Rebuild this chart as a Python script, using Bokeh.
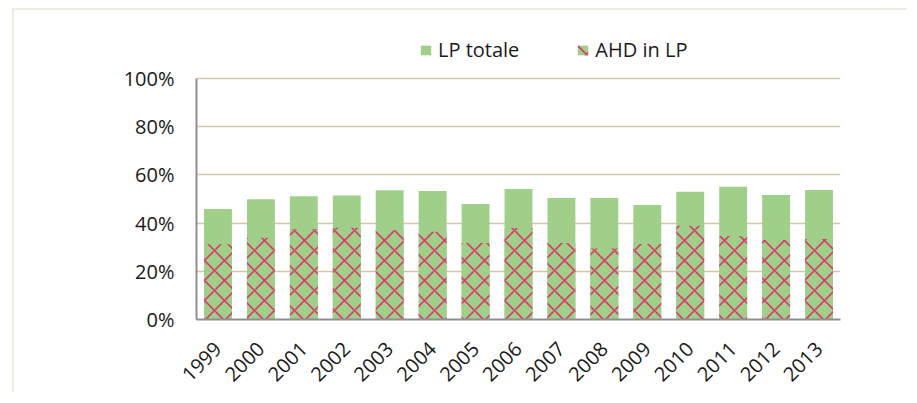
from bokeh.plotting import figure
from bokeh.models import (ColumnDataSource, FixedTicker, NumeralTickFormatter,
                          Range1d, Legend, LegendItem)
from bokeh.embed import file_html
from bokeh.resources import INLINE
from math import pi

years = ["1999", "2000", "2001", "2002", "2003", "2004", "2005", "2006",
         "2007", "2008", "2009", "2010", "2011", "2012", "2013"]
lp_totale = [45.9, 49.9, 51.1, 51.5, 53.6, 53.3, 47.9, 54.1,
             50.4, 50.4, 47.5, 53.0, 55.1, 51.7, 53.7]
ahd_in_lp = [31.2, 33.9, 37.4, 38.1, 37.1, 36.4, 31.7, 38.0,
             31.7, 29.5, 31.3, 38.9, 34.6, 33.0, 33.4]
y_ticks = [0, 20, 40, 60, 80, 100]

src = ColumnDataSource(dict(
    year=years,
    total=[v / 100 for v in lp_totale],
    ahd=[v / 100 for v in ahd_in_lp],
))

GREEN = "#a0cf8a"
RED = "#d4436f"
FONT = "Open Sans"

# frame extends above 100% to host the legend; axis line bounded to 0..100%
p = figure(x_range=years, y_range=Range1d(0, 1.2033), width=895, height=384,
           output_backend="svg", toolbar_location=None,
           min_border_left=182, min_border_right=69,
           min_border_top=19, min_border_bottom=75)
p.styles = {"margin-left": "12px", "margin-top": "8px",
            "border-left": "2px solid #eeebdf", "border-top": "2px solid #eeebdf"}
p.outline_line_color = None
p.background_fill_color = "white"
p.border_fill_color = "white"

r1 = p.vbar(x="year", top="total", width=0.65, source=src,
            fill_color=GREEN, line_color=None)
r2 = p.vbar(x="year", top="ahd", width=0.65, source=src,
            fill_color=GREEN, line_color=None,
            hatch_pattern="diagonal_cross", hatch_color=RED,
            hatch_weight=1.8, hatch_scale=20)

p.x_range.range_padding = 0
p.xgrid.grid_line_color = None
p.ygrid.grid_line_color = "#cfc7a6"
p.ygrid.grid_line_width = 1.5

p.yaxis.ticker = FixedTicker(ticks=[v / 100 for v in y_ticks])
p.yaxis.formatter = NumeralTickFormatter(format="0%")
p.yaxis.bounds = (0, 1)
for ax in (p.xaxis, p.yaxis):
    ax.axis_line_color = "#8f8f8f"
    ax.axis_line_width = 2
    ax.major_tick_line_color = None
    ax.minor_tick_line_color = None
    ax.major_tick_out = 0
    ax.major_tick_in = 0
    ax.major_label_text_font = FONT
    ax.major_label_text_font_size = "20px"
    ax.major_label_text_color = "#1a1a1a"
p.yaxis.major_label_standoff = 22
p.xaxis.major_label_orientation = pi / 4
p.xaxis.major_label_standoff = 26

legend = Legend(items=[LegendItem(label="LP totale", renderers=[r1]),
                       LegendItem(label="AHD in LP", renderers=[r2])],
                orientation="horizontal", location=(223, 256),
                label_text_font=FONT, label_text_font_size="20px",
                label_text_color="#1a1a1a",
                glyph_width=13, glyph_height=12, label_standoff=6,
                spacing=57, padding=0, margin=0,
                border_line_color=None, background_fill_alpha=0)
p.add_layout(legend)

open("out.html", "w").write(file_html(p, INLINE))
